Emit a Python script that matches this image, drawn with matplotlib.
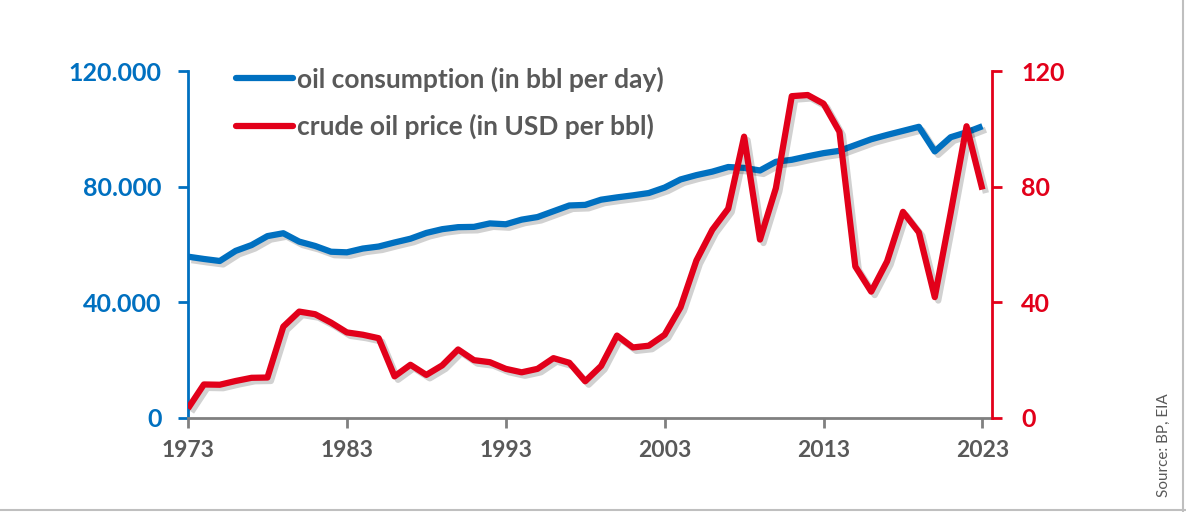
import matplotlib
matplotlib.use("Agg")
import matplotlib.pyplot as plt
import matplotlib.patheffects as pe
import numpy as np

BLUE = "#0070C0"
RED = "#E2001A"
GREY = "#595959"

years = list(range(1973, 2024))

# oil consumption, thousand bbl per day
consumption = [
    55800, 55000, 54300, 57800, 59800, 62900, 63900, 61000, 59500, 57500,
    57300, 58600, 59300, 60700, 62000, 64000, 65300, 66000, 66100, 67300,
    67000, 68600, 69500, 71500, 73500, 73700, 75500, 76300, 77000, 77800,
    79700, 82500, 84000, 85200, 86800, 86500, 85600, 88600, 89300, 90500,
    91600, 92400, 94400, 96400, 97900, 99300, 100700, 92200, 97100, 98800,
    100900,
]

# crude oil price, USD per bbl
price = [
    3.3, 11.6, 11.5, 12.8, 13.9, 14.0, 31.6, 36.8, 35.9, 33.0,
    29.6, 28.8, 27.6, 14.4, 18.4, 14.9, 18.2, 23.7, 20.0, 19.3,
    17.0, 15.8, 17.0, 20.7, 19.1, 12.7, 18.0, 28.5, 24.4, 25.0,
    28.8, 38.3, 54.5, 65.1, 72.4, 97.3, 61.7, 79.5, 111.3, 111.7,
    108.7, 99.0, 52.4, 43.7, 54.2, 71.3, 64.2, 41.8, 70.9, 100.9,
    79.0,
]

x_ticks = [1973, 1983, 1993, 2003, 2013, 2023]
left_ticks = [0, 40000, 80000, 120000]
left_labels = ["0", "40.000", "80.000", "120.000"]
right_ticks = [0, 40, 80, 120]

plt.rcParams["font.family"] = ["Lato", "DejaVu Sans"]

fig = plt.figure(figsize=(11.86, 5.12), dpi=100)

# background gradient, white at the top fading to light grey
bg = fig.add_axes([0, 0, 1, 1], zorder=-10)
rows = np.arange(512)
level = np.clip(rows / 230.0, 0, 1)
grad = 1.0 - level * (1.0 - 0xF2 / 255.0)
img = np.dstack([grad, grad, grad])[:, None, 0, :].repeat(2, axis=1)
bg.imshow(img, aspect="auto", extent=[0, 1, 0, 1], origin="upper")
bg.plot([0.9975, 0.9975], [0, 1], color="#BFBFBF", lw=1.5)
bg.plot([0, 1], [0.004, 0.004], color="#BFBFBF", lw=1.5)
bg.set_xlim(0, 1)
bg.set_ylim(0, 1)
bg.axis("off")

ax = fig.add_axes([0.1585, 0.1836, 0.6779, 0.6777])
ax.patch.set_alpha(0)
ax2 = ax.twinx()

shadow = [pe.SimpleLineShadow(offset=(2.5, -2.5), shadow_color="black", alpha=0.18),
          pe.Normal()]

l1, = ax.plot(years, consumption, color=BLUE, lw=4.5, solid_joinstyle="round",
              solid_capstyle="butt", path_effects=shadow, zorder=3,
              label="oil consumption (in bbl per day)")
l2, = ax2.plot(years, price, color=RED, lw=4.5, solid_joinstyle="round",
               solid_capstyle="butt", path_effects=shadow, zorder=3,
               label="crude oil price (in USD per bbl)")

ax.set_xlim(1973, 2023.6)
ax.set_ylim(0, 120000)
ax2.set_ylim(0, 120)

for s in ["top", "right"]:
    ax.spines[s].set_visible(False)
for s in ["top", "left", "bottom"]:
    ax2.spines[s].set_visible(False)

ax.spines["left"].set_color(BLUE)
ax.spines["left"].set_linewidth(2)
ax.spines["bottom"].set_color("#808080")
ax.spines["bottom"].set_linewidth(2)
ax2.spines["right"].set_color(RED)
ax2.spines["right"].set_linewidth(2)

ax.set_xticks(x_ticks)
ax.set_xticklabels([str(y) for y in x_ticks])
ax.tick_params(axis="x", direction="out", length=7, width=2, color="#808080",
               labelsize=16.5, labelcolor=GREY, pad=9)
for t in ax.get_xticklabels():
    t.set_fontweight("bold")

ax.set_yticks(left_ticks)
ax.set_yticklabels(left_labels)
ax.tick_params(axis="y", direction="out", length=7, width=2, color=BLUE,
               labelsize=18, labelcolor=BLUE, pad=12)
for t in ax.get_yticklabels():
    t.set_fontweight("bold")

ax2.set_yticks(right_ticks)
ax2.tick_params(axis="y", direction="out", length=7, width=2, color=RED,
                labelsize=18, labelcolor=RED, pad=14)
for t in ax2.get_yticklabels():
    t.set_fontweight("bold")

leg = ax2.legend(handles=[l1, l2], loc="upper left", bbox_to_anchor=(0.03, 1.082),
                 frameon=False, handlelength=2.15, handletextpad=0.15,
                 labelspacing=0.85, prop={"size": 19, "weight": "bold"})
for t in leg.get_texts():
    t.set_color(GREY)
for h in leg.legend_handles:
    h.set_path_effects([])
    h.set_solid_capstyle("round")

fig.text(0.9815, 0.03, "Source: BP, EIA", rotation=90, ha="center", va="bottom",
         fontsize=11, color=GREY)

fig.savefig("out.png", dpi=100)
